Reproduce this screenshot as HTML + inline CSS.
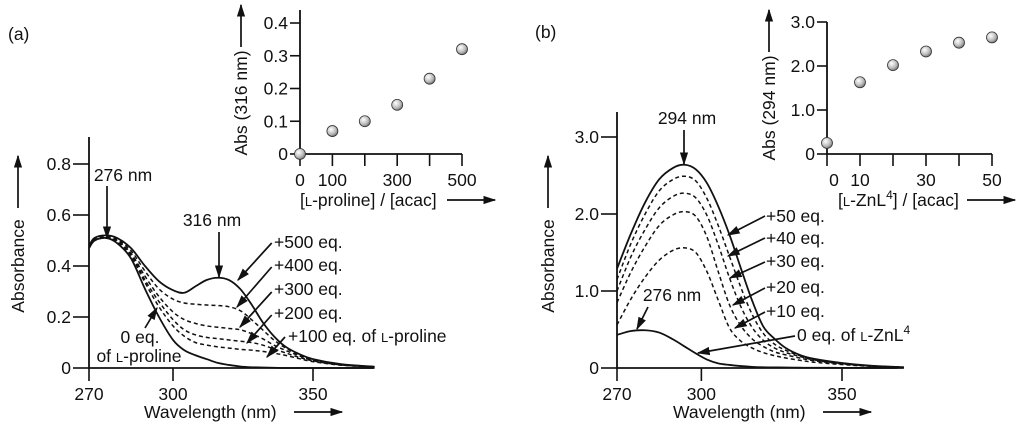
<!DOCTYPE html>
<html><head><meta charset="utf-8">
<style>
html,body{margin:0;padding:0;background:#fff;}
svg{display:block;font-family:"Liberation Sans",Arial,sans-serif;}
text{font-size:17.5px;fill:#111;}
.sc{font-size:13px;}
</style></head>
<body>
<svg id="fig" width="1024" height="439" viewBox="0 0 1024 439" xmlns="http://www.w3.org/2000/svg">
<defs>
<radialGradient id="ball" cx="0.38" cy="0.35" r="0.7">
<stop offset="0" stop-color="#fff"/><stop offset="0.6" stop-color="#bdbdbd"/><stop offset="1" stop-color="#6d6d6d"/>
</radialGradient>
<marker id="ahb" viewBox="0 0 10 10" refX="9" refY="5" markerWidth="13" markerHeight="13" orient="auto" markerUnits="userSpaceOnUse">
<path d="M0,1.8 L10,5 L0,8.2 z" fill="#111"/></marker>
</defs>
<g id="layer"></g>
<text x="8" y="40">(a)</text>
<text x="535" y="38">(b)</text>
</svg>
<script>
// ---- Panel (a) spectra data ----
const wlA = [270,272,276,280,285,290,295,300,304,308,312,316,320,324,328,332,336,340,345,350,360,372];
const a0 = [0.47,0.50,0.51,0.49,0.43,0.31,0.20,0.11,0.07,0.05,0.035,0.02,0.012,0.006,0.003,0.002,0.001,0,0,0,0,0];
const a100 = [0.47,0.50,0.51,0.495,0.44,0.335,0.24,0.165,0.125,0.10,0.09,0.083,0.078,0.073,0.07,0.065,0.058,0.05,0.037,0.025,0.011,0.004];
const a200 = [0.47,0.50,0.51,0.495,0.445,0.345,0.26,0.19,0.15,0.13,0.12,0.115,0.11,0.105,0.10,0.09,0.075,0.06,0.042,0.028,0.012,0.004];
const a300 = [0.475,0.50,0.51,0.50,0.45,0.36,0.28,0.22,0.19,0.175,0.165,0.16,0.155,0.15,0.135,0.115,0.09,0.07,0.048,0.03,0.013,0.005];
const a400 = [0.48,0.505,0.515,0.505,0.46,0.38,0.31,0.27,0.255,0.25,0.247,0.245,0.24,0.225,0.19,0.15,0.11,0.08,0.052,0.033,0.014,0.005];
const a500 = [0.48,0.51,0.52,0.51,0.47,0.40,0.34,0.305,0.295,0.32,0.345,0.354,0.345,0.31,0.25,0.18,0.125,0.085,0.055,0.035,0.015,0.005];
// ---- Panel (b) spectra data ----
const wlB = [270,275,280,285,290,294,298,302,306,310,314,318,322,326,330,335,340,350,360,372];
const b0 = [0.43,0.48,0.49,0.46,0.37,0.28,0.19,0.11,0.06,0.04,0.025,0.015,0.01,0.008,0.006,0.004,0.003,0.002,0.001,0];
const b10 = [0.56,0.90,1.18,1.40,1.53,1.56,1.50,1.25,0.88,0.52,0.35,0.26,0.20,0.16,0.13,0.10,0.075,0.045,0.022,0.008];
const b20 = [0.85,1.25,1.58,1.85,1.99,2.03,1.97,1.70,1.25,0.82,0.55,0.38,0.28,0.21,0.17,0.13,0.095,0.053,0.025,0.01];
const b30 = [1.00,1.45,1.80,2.08,2.23,2.27,2.21,1.98,1.60,1.17,0.80,0.53,0.36,0.26,0.20,0.15,0.105,0.058,0.027,0.01];
const b40 = [1.15,1.62,2.00,2.30,2.45,2.49,2.43,2.20,1.85,1.45,1.05,0.70,0.45,0.31,0.23,0.16,0.11,0.06,0.028,0.01];
const b50 = [1.29,1.75,2.15,2.45,2.60,2.64,2.58,2.40,2.10,1.73,1.30,0.88,0.54,0.38,0.26,0.17,0.12,0.065,0.03,0.01];
// ---- Insets ----
const insAx = [0,100,200,300,400,500];
const insAy = [0,0.07,0.10,0.15,0.23,0.32];
const insBx = [0,10,20,30,40,50];
const insBy = [0.25,1.63,2.02,2.33,2.53,2.65];
const ticksMainA = [0,0.2,0.4,0.6,0.8];
const tickLabMainA = ["0","0.2","0.4","0.6","0.8"];
const ticksMainB = [0,1,2,3];
const tickLabMainB = ["0","1.0","2.0","3.0"];
const ticksWl = [270,300,350];
const ticksInsAy = [0,0.1,0.2,0.3,0.4];
const tickLabInsAy = ["0","0.1","0.2","0.3","0.4"];
const ticksInsAx = [0,100,200,300,400,500];
const tickLabInsAx = ["0","100","","300","","500"];
const ticksInsBy = [0,1,2,3];
const tickLabInsBy = ["0","1.0","2.0","3.0"];
const ticksInsBx = [0,10,20,30,40,50];
const tickLabInsBx = ["0","10","","30","","50"];

const NS="http://www.w3.org/2000/svg";
const L=document.getElementById('layer');
function mk(tag,attrs,parent){const e=document.createElementNS(NS,tag);for(const k in attrs)e.setAttribute(k,attrs[k]);(parent||L).appendChild(e);return e;}
function lin(d0,d1,r0,r1){return v=>r0+(v-d0)*(r1-r0)/(d1-d0);}
function smooth(pts){let d=`M${pts[0][0]},${pts[0][1]}`;for(let i=0;i<pts.length-1;i++){const p0=pts[Math.max(0,i-1)],p1=pts[i],p2=pts[i+1],p3=pts[Math.min(pts.length-1,i+2)];const c1x=p1[0]+(p2[0]-p0[0])/6,c1y=p1[1]+(p2[1]-p0[1])/6,c2x=p2[0]-(p3[0]-p1[0])/6,c2y=p2[1]-(p3[1]-p1[1])/6;d+=` C${c1x},${c1y} ${c2x},${c2y} ${p2[0]},${p2[1]}`;}return d;}
function txt(x,y,s,anchor,parent){const t=mk('text',{x:x,y:y,'text-anchor':anchor||'start'},parent);t.innerHTML=s;return t;}
function arrow(x1,y1,x2,y2){return mk('line',{x1,y1,x2,y2,stroke:'#111','stroke-width':1.7,'marker-end':'url(#ahb)'});}

function mainPanel(cfg){
  const g=mk('g',{});
  
  
  const X=lin(270,350,cfg.x270,cfg.x350), Y=lin(0,cfg.yv,cfg.y0,cfg.yp);
  const ax=mk('path',{d:`M${cfg.x270},${cfg.ytop} V${cfg.y0} H${cfg.xend}`,fill:'none',stroke:'#111','stroke-width':1.8},g);
  
  
  cfg.yt.forEach((v,i)=>{const y=Y(v);mk('line',{x1:cfg.x270-16,y1:y,x2:cfg.x270,y2:y,stroke:'#111','stroke-width':1.6},g);
    const t=txt(cfg.x270-18,y+6,cfg.yl[i],'end',g);
    
    });
  ticksWl.forEach(v=>{const x=X(v);mk('line',{x1:x,y1:cfg.y0,x2:x,y2:cfg.y0+13,stroke:'#111','stroke-width':1.6},g);
    const t=txt(x,cfg.y0+32,String(v),'middle',g);
    
    });
  cfg.series.forEach(s=>{const pts=cfg.wl.map((w,i)=>[X(w),Y(s.v[i])]);
    const p=mk('path',{d:smooth(pts),fill:'none',stroke:'#111','stroke-width':s.dash?1.5:1.8,'stroke-dasharray':s.dash?'4 3':'none'},g);
    
    });
  const yt=mk('text',{x:0,y:0,'text-anchor':'middle',transform:`translate(${cfg.ytx},${cfg.yty}) rotate(-90)`},g);
  yt.textContent='Absorbance';
  
  
  arrow(cfg.ytx-6,cfg.yty-58,cfg.ytx-6,cfg.yty-110);
  const xt=txt(cfg.xtx,418,'Wavelength (nm)','start',g);
  
  
  arrow(cfg.xtx+150,412,cfg.xtx+198,412);
  return g;
}
mainPanel({name:'panel-a-spectra',x270:89,x350:313,xend:373,y0:368,yv:0.8,yp:164,ytop:137,wl:wlA,yt:ticksMainA,yl:tickLabMainA,ytx:24,yty:266,xtx:144,
  series:[{n:'line-0eq',v:a0},{n:'line-100eq',v:a100,dash:1},{n:'line-200eq',v:a200,dash:1},{n:'line-300eq',v:a300,dash:1},{n:'line-400eq',v:a400,dash:1},{n:'line-500eq',v:a500}]});
mainPanel({name:'panel-b-spectra',x270:617,x350:842,xend:897,y0:368,yv:3,yp:137,ytop:112,wl:wlB,yt:ticksMainB,yl:tickLabMainB,ytx:554,yty:266,xtx:673,
  series:[{n:'line-0eq',v:b0},{n:'line-10eq',v:b10,dash:1},{n:'line-20eq',v:b20,dash:1},{n:'line-30eq',v:b30,dash:1},{n:'line-40eq',v:b40,dash:1},{n:'line-50eq',v:b50}]});

// annotations panel a
txt(123,181,'276 nm','middle'); arrow(107,186,107,238);
txt(212,226,'316 nm','middle'); arrow(219,232,219,277);
[['+500 eq.',248,271.7,243,238,280],['+400 eq.',271,271.7,267,237,307],['+300 eq.',295,271.7,292,240,327],['+200 eq.',319,271.7,315,247,343]].forEach(a=>{const t=txt(274,a[1],a[0]);arrow(a[2],a[3],a[4],a[5]);});
txt(288,342,'+100 eq. of <tspan class="sc">L</tspan>-proline'); arrow(285,337,267,357);
txt(140,343,'0 eq.','middle'); txt(139,362,'of <tspan class="sc">L</tspan>-proline','middle'); arrow(145,328,157,308);
// annotations panel b
txt(687,124,'294 nm','middle'); arrow(684,130,684,164);
txt(672,301,'276 nm','middle'); arrow(648,307,637,329);
[['+50 eq.',222,216,728,235],['+40 eq.',244,238,728,256],['+30 eq.',267,262,730,278],['+20 eq.',293,288,733,305],['+10 eq.',317,312,735,328]].forEach(a=>{const t=txt(766,a[1],a[0]);arrow(765,a[2],a[3],a[4]);});
txt(797,341,'0 eq. of <tspan class="sc">L</tspan>-ZnL<tspan dy="-7" font-size="12">4</tspan>'); arrow(795,336,698,353);

function inset(cfg){
  const g=mk('g',{});
  
  
  const X=lin(cfg.xd[0],cfg.xd[1],cfg.x0,cfg.x1), Y=lin(cfg.yd[0],cfg.yd[1],154,cfg.ytopv);
  mk('path',{d:`M${cfg.x0},${cfg.ytop} V154 H${cfg.x1}`,fill:'none',stroke:'#111','stroke-width':1.8},g);
  cfg.yt.forEach((v,i)=>{const y=Y(v);mk('line',{x1:cfg.x0-10,y1:y,x2:cfg.x0,y2:y,stroke:'#111','stroke-width':1.6},g);
    const t=txt(cfg.x0-12,y+6,cfg.yl[i],'end',g);
    
    });
  cfg.xt.forEach((v,i)=>{const x=X(v);mk('line',{x1:x,y1:154,x2:x,y2:166,stroke:'#111','stroke-width':1.6},g);
    if(cfg.xl[i]){const t=txt(x+(i==0?cfg.zoff:0),186,cfg.xl[i],'middle',g);
    
    }});
  cfg.px.forEach((v,i)=>{const c=mk('circle',{cx:X(v),cy:Y(cfg.py[i]),r:5.5,fill:'url(#ball)',stroke:'#333','stroke-width':0.8},g);
    
    });
  const yt=mk('text',{x:0,y:0,'text-anchor':'middle',transform:`translate(${cfg.ytx},${cfg.yty}) rotate(-90)`},g);
  yt.textContent=cfg.ytitle;
  
  
  arrow(cfg.ytx-6,cfg.yty-56,cfg.ytx-6,cfg.yty-98);
  const xt=txt(cfg.xtx,206,cfg.xtitle,'start',g);
  
  
  arrow(cfg.xarr,200,cfg.xarr+48,200);
}
inset({name:'inset-a',x0:300,x1:462,xd:[0,500],yd:[0,0.4],ytopv:23,ytop:10,yt:ticksInsAy,yl:tickLabInsAy,xt:ticksInsAx,xl:tickLabInsAx,px:insAx,py:insAy,zoff:0,
  ytx:247,yty:103,ytitle:'Abs (316 nm)',xtx:300,xtitle:'[<tspan class="sc">L</tspan>-proline] / [acac]',xarr:447});
inset({name:'inset-b',x0:827,x1:992,xd:[0,50],yd:[0,3],ytopv:22,ytop:22,yt:ticksInsBy,yl:tickLabInsBy,xt:ticksInsBx,xl:tickLabInsBx,px:insBx,py:insBy,zoff:7,
  ytx:775,yty:108,ytitle:'Abs (294 nm)',xtx:838,xtitle:'[<tspan class="sc">L</tspan>-ZnL<tspan dy="-7" font-size="12">4</tspan><tspan dy="7">] / [acac]</tspan>',xarr:967});
</script>
</body></html>
